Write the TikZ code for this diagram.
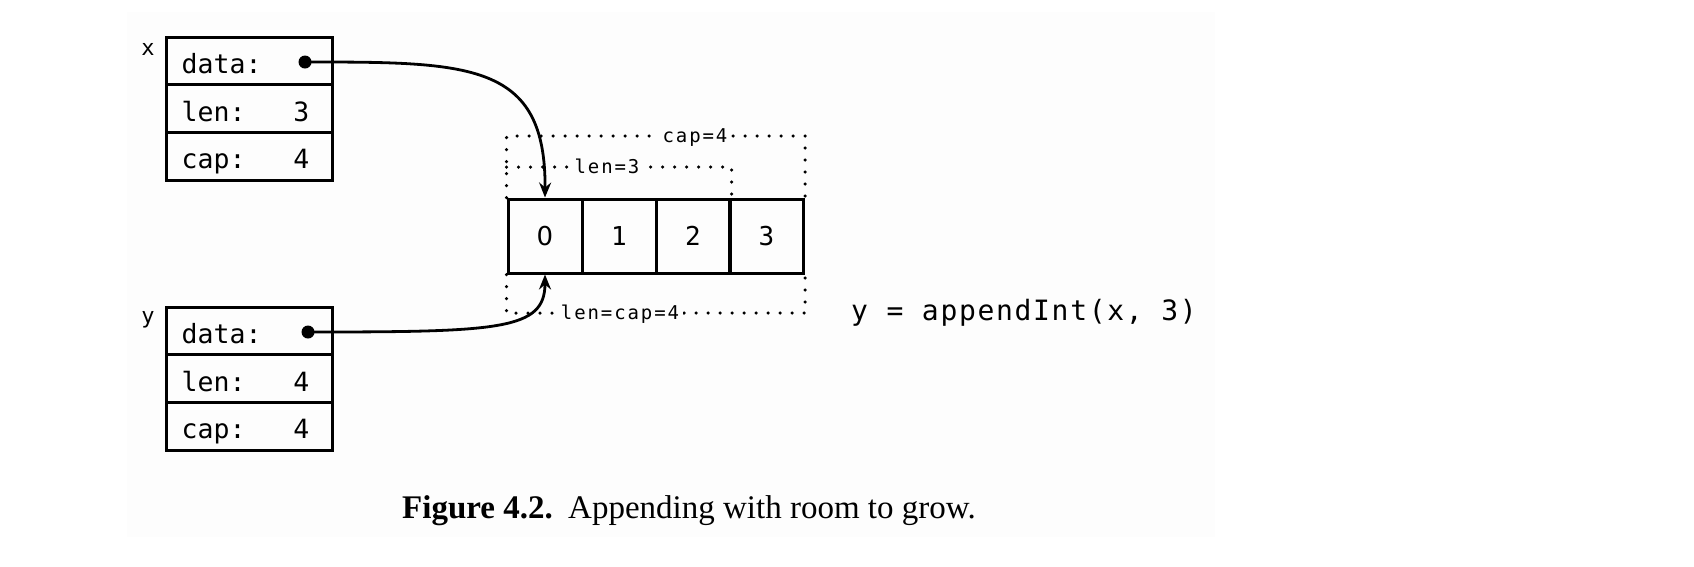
\documentclass[tikz,border=0pt]{standalone}
\usepackage{fontspec}
\setmainfont{Liberation Serif}
\newfontfamily\monofont{DejaVu Sans Mono}
\newfontfamily\monolbl[LetterSpace=10]{DejaVu Sans Mono}
\newfontfamily\monocode[LetterSpace=6]{DejaVu Sans Mono}
\newfontfamily\plainsans{DejaVu Sans}
\usetikzlibrary{arrows.meta}
\definecolor{panel}{HTML}{FDFDFD}
\begin{document}
\begin{tikzpicture}[x=1pt,y=-1pt,
  field/.style={draw, line width=3pt, minimum width=166pt, minimum height=47.7pt, inner sep=0pt},
  ftext/.style={anchor=base west, inner sep=0pt, font={\monofont\fontsize{26.5}{30}\selectfont}},
  cell/.style={draw, line width=3pt, minimum width=74pt, minimum height=74pt, inner sep=0pt, font={\monofont\fontsize{26}{30}\selectfont}},
  ptrdot/.style={circle, fill=black, minimum size=13pt, inner sep=0pt},
  ptr/.style={line width=2.8pt, -{Stealth[length=15pt,width=12pt,inset=5pt]}},
  dotline/.style={line width=3.5pt, line cap=round, dash pattern=on 0pt off 12pt},
  dotlabel/.style={anchor=base, fill=panel, inner xsep=4pt, inner ysep=2pt, font={\monolbl\fontsize{19}{22}\selectfont}},
  varname/.style={anchor=base, inner sep=0pt, font={\monofont\fontsize{22}{26}\selectfont}}
]
\useasboundingbox (0,0) rectangle (1694,566);
\fill[panel] (127,12) rectangle (1215,537);

% slice header x
\node[varname] (xname) at (148,55) {x};
\node[field] (xd) at (249,60.85) {};
\node[field] (xl) at (249,108.55) {};
\node[field] (xc) at (249,156.25) {};
\node[ftext] (xdt) at ([shift={(17,12.5)}]xd.west) {data:};
\node[ftext] (xlt) at ([shift={(17,12.5)}]xl.west) {len:~~~3};
\node[ftext] (xct) at ([shift={(17,12.5)}]xc.west) {cap:~~~4};
\node[ptrdot] (xdot) at (305,62) {};

% slice header y
\node[varname] (yname) at (148,323) {y};
\node[field] (yd) at (249,330.85) {};
\node[field] (yl) at (249,378.55) {};
\node[field] (yc) at (249,426.25) {};
\node[ftext] (ydt) at ([shift={(17,12.5)}]yd.west) {data:};
\node[ftext] (ylt) at ([shift={(17,12.5)}]yl.west) {len:~~~4};
\node[ftext] (yct) at ([shift={(17,12.5)}]yc.west) {cap:~~~4};
\node[ptrdot] (ydot) at (308,332) {};

% underlying array
\node[cell] (a0) at (545,236) {\plainsans 0};
\node[cell] (a1) at (619,236) {1};
\node[cell] (a2) at (693,236) {2};
\node[cell] (a3) at (766.5,236) {3};

% dotted brackets
\coordinate (captop) at (0,136);
\coordinate (lentop) at (0,167);
\coordinate (lenbot) at (0,313);
\draw[dotline] (a0.north west) -- (a0.north west |- captop) -- (a3.north east |- captop) -- (a3.north east);
\draw[dotline] (a0.north west |- lentop) -- (a2.north east |- lentop) -- (a2.north east);
\draw[dotline] (a0.south west) -- (a0.south west |- lenbot) -- (a3.south east |- lenbot) -- (a3.south east);
\node[dotlabel] (caplbl) at (695,142) {cap=4};
\node[dotlabel] (lenlbl) at (607,173) {len=3};
\node[dotlabel] (lclbl) at (620,319) {len=cap=4};

% pointers
\draw[ptr] (xdot.center) .. controls (470,62) and (546,62) .. (a0.north);
\draw[ptr] (ydot.center) .. controls (500,332) and (545,330) .. (a0.south);

% code
\node[anchor=base west, inner sep=0pt, font={\monocode\fontsize{28}{32}\selectfont}] (code) at (851,320) {y = appendInt(x, 3)};

% caption
\node[anchor=base west, inner sep=0pt, font={\bfseries\fontsize{33}{38}\selectfont}] (figlbl) at (402,518) {Figure 4.2.};
\node[anchor=base west, inner sep=0pt, font={\fontsize{33}{38}\selectfont}] (figtxt) at (568,518) {Appending with room to grow.};
\end{tikzpicture}
\end{document}
